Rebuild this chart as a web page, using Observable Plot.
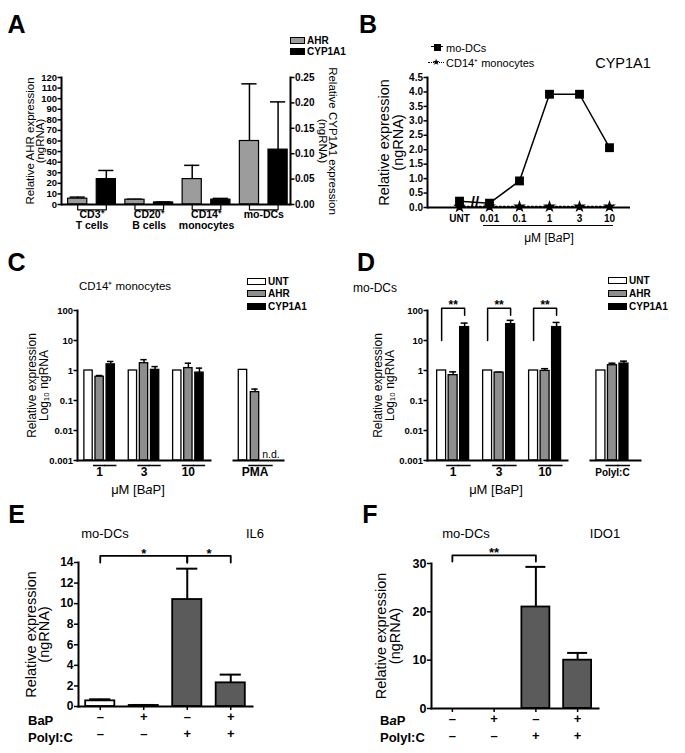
<!DOCTYPE html>
<html>
<head>
<meta charset="utf-8">
<script src="https://cdn.jsdelivr.net/npm/d3@7"></script>
<script src="https://cdn.jsdelivr.net/npm/@observablehq/plot@0.6"></script>
<style>
html,body{margin:0;padding:0;background:#fff;}
#fig{position:relative;width:685px;height:753px;overflow:hidden;font-family:"Liberation Sans",Arial,Helvetica,sans-serif;color:#000;background:#fff;}
.t{position:absolute;white-space:nowrap;line-height:1;}
.sw{position:absolute;border:1.5px solid #000;box-sizing:border-box;}
.hl{position:absolute;height:0;}
</style>
</head>
<body>
<div id="fig"></div>
<script>
// ---------------- DATA ----------------
// Panel A
const cellTypes = ["CD3⁺\nT cells", "CD20⁺\nB cells", "CD14⁺\nmonocytes", "mo-DCs"];
const ahrMean = [5.5, 4.5, 24, 60];
const ahrUpper = [7, 5, 37, 114];
const cyp1a1Mean = [0.050, 0.004, 0.0095, 0.108];
const cyp1a1Upper = [0.067, 0.005, 0.012, 0.202];
const ticksALeft = [0, 10, 20, 30, 40, 50, 60, 70, 80, 90, 100, 110, 120];
const ticksARight = [0, 0.05, 0.10, 0.15, 0.20, 0.25];

// Panel B
const bDoses = ["UNT", "0.01", "0.1", "1", "3", "10"];
const bMoDCs = [0.22, 0.15, 0.92, 3.92, 3.92, 2.07];
const bCD14 = [0.02, 0.03, 0.03, 0.03, 0.03, 0.03];
const ticksB = [0, 0.5, 1, 1.5, 2, 2.5, 3, 3.5, 4, 4.5];

// Panels C & D
const cdSeries = ["UNT", "AHR", "CYP1A1"];
const bapDoses = ["1", "3", "10"];
const logTicks = [0.001, 0.01, 0.1, 1, 10, 100];
const cUNT = [1, 1, 1];
const cAHR = [0.62, 1.75, 1.2];
const cAHRUpper = [0.68, 2.3, 1.75];
const cCYP = [1.6, 1.05, 0.85];
const cCYPUpper = [2.0, 1.35, 1.2];
const cPMA = [1.05, 0.19, null];          // UNT, AHR, CYP1A1 (n.d.)
const cPMAUpper = [null, 0.24, null];
const dUNT = [1, 1, 1];
const dAHR = [0.7, 0.85, 0.97];
const dAHRUpper = [0.9, 0.88, 1.15];
const dCYP = [28, 35, 28];
const dCYPUpper = [38, 47, 40];
const dPolyIC = [1, 1.5, 1.7];
const dPolyICUpper = [null, 1.75, 2.05];

// Panels E & F
const efBaP = [false, true, false, true];
const efPolyIC = [false, false, true, true];
const il6Mean = [0.55, 0.1, 10.4, 2.3];
const il6Upper = [0.7, 0.15, 13.4, 3.1];
const ido1Mean = [0, 0, 21, 10];
const ido1Upper = [null, null, 29.3, 11.5];
const ticksE = [0, 2, 4, 6, 8, 10, 12, 14];
const ticksF = [0, 10, 20, 30];

// ---------------- HELPERS ----------------
const FONT = '"Liberation Sans", Arial, Helvetica, sans-serif';
const common = {style: `font-family:${FONT};font-size:10px;font-weight:bold;background:transparent;overflow:visible;color:#000;`};
const fig = document.getElementById("fig");
function put(node, left, top) {
  node.style.position = "absolute";
  node.style.left = left + "px";
  node.style.top = top + "px";
  fig.appendChild(node);
}
function label(x, y, content, size = 11, weight = "normal", anchor = "middle") {
  const d = document.createElement("div");
  d.className = "t";
  d.innerHTML = content;
  d.style.left = x + "px";
  d.style.top = y + "px";
  d.style.fontSize = size + "px";
  d.style.fontWeight = weight;
  d.style.transform = `translate(${anchor === "start" ? "0" : "-50%"}, -50%)`;
  fig.appendChild(d);
}
function swatch(x, y, w, h, fill) {
  const d = document.createElement("div");
  d.className = "sw";
  Object.assign(d.style, {left: x + "px", top: y + "px", width: w + "px", height: h + "px", background: fill});
  fig.appendChild(d);
}
function hline(x1, x2, y, style = "solid", w = 1.5) {
  const d = document.createElement("div");
  d.className = "hl";
  Object.assign(d.style, {left: x1 + "px", top: (y - w / 2) + "px", width: (x2 - x1) + "px", borderTop: `${w}px ${style} #000`});
  fig.appendChild(d);
}
function axisTitle(text, dx, fontSize, lineHeight = 1, side = "left") {
  return Plot.text([text], {
    text: d => d, frameAnchor: side, textAnchor: "middle", lineAnchor: "middle",
    rotate: side === "left" ? -90 : 90,
    dx, fontSize, lineHeight, fontWeight: "normal"
  });
}
const seriesFill = {UNT: "#ffffff", AHR: "#8e8e8e", CYP1A1: "#000000"};
const yTickStyle = {tickSize: 3.5, tickPadding: 1, strokeWidth: 1.5, label: null};

// ---------------- PANEL A ----------------
const kA = 120 / 0.25;
const aRows = cellTypes.flatMap((c, i) => [
  {key: c + "|AHR", series: "AHR", v: ahrMean[i], up: ahrUpper[i]},
  {key: c + "|CYP1A1", series: "CYP1A1", v: cyp1a1Mean[i] * kA, up: cyp1a1Upper[i] * kA}
]);
const aStep = (342 - 61 - 52) / 8;
const aBrackets = cellTypes.flatMap((c, i) => [
  {key: c + "|AHR", y: 0, g: i}, {key: c + "|AHR", y: -5, g: i},
  {key: c + "|CYP1A1", y: -5, g: i}, {key: c + "|CYP1A1", y: 0, g: i}
]);
put(Plot.plot({
  ...common, width: 342, height: 245, marginLeft: 61, marginRight: 52, marginTop: 77, marginBottom: 41,
  x: {domain: aRows.map(d => d.key), paddingInner: 0.33, paddingOuter: 0.165, align: 0.7, round: false, axis: null},
  y: {domain: [0, 120]},
  color: {type: "identity"},
  marks: [
    Plot.axisY(ticksALeft, {anchor: "left", ...yTickStyle, fontSize: 9.5}),
    Plot.axisY(ticksARight.map(t => t * kA), {anchor: "right", ...yTickStyle, tickFormat: d => (d / kA).toFixed(2)}),
    Plot.line(aBrackets, {x: "key", y: "y", z: "g", strokeWidth: 1.2}),
    Plot.ruleX(aRows, {x: "key", y1: "v", y2: "up", strokeWidth: 1.5}),
    Plot.tickY(aRows, {x: "key", y: "up", strokeWidth: 1.5, insetLeft: 2, insetRight: 2}),
    Plot.barY(aRows, {x: "key", y: "v", fill: d => d.series === "AHR" ? "#9c9c9c" : "#000000", stroke: "#000", strokeWidth: 1.2}),
    Plot.frame({anchor: "left", strokeWidth: 2}),
    Plot.frame({anchor: "right", strokeWidth: 2}),
    Plot.ruleY([0], {strokeWidth: 2}),
    Plot.text(cellTypes, {x: c => c + "|AHR", text: d => d, frameAnchor: "bottom", dx: aStep / 2, dy: 5, lineAnchor: "top", fontSize: 10.5, lineHeight: 1.1}),
    axisTitle("Relative AHR expression\n(ngRNA)", -26, 11.5, 0.9, "left"),
    axisTitle("Relative CYP1A1 expression\n(ngRNA)", 37, 11.5, 0.92, "right")
  ]
}), 0, 0);

// ---------------- PANEL B ----------------
const bRows = bDoses.map((d, i) => ({dose: d, mo: bMoDCs[i], cd: bCD14[i]}));
put(Plot.plot({
  ...common, width: 343, height: 245, marginLeft: 85, marginRight: 55, marginTop: 77, marginBottom: 38,
  x: {type: "point", domain: bDoses, range: [117, 267], padding: 0},
  y: {domain: [0, 4.5]},
  marks: [
    Plot.axisY(ticksB, {...yTickStyle, tickFormat: d => d.toFixed(1)}),
    Plot.axisX(bDoses, {tickSize: 3, tickPadding: 4, strokeWidth: 1.5, label: null}),
    Plot.frame({anchor: "left", strokeWidth: 2}),
    Plot.ruleY([0], {strokeWidth: 2}),
    Plot.lineY(bRows, {x: "dose", y: "cd", strokeDasharray: "1.5,2.5", strokeWidth: 2}),
    Plot.dot(bRows, {x: "dose", y: "cd", symbol: "star", r: 4, fill: "#000", stroke: "none"}),
    Plot.lineY(bRows, {x: "dose", y: "mo", strokeWidth: 1.5}),
    Plot.dot(bRows, {x: "dose", y: "mo", symbol: "square", r: 5, fill: "#000", stroke: "none"}),
    axisTitle("Relative expression\n(ngRNA)", -36, 14.5, 0.97, "left")
  ]
}), 342, 0);

// ---------------- PANELS C & D ----------------
function groupRows(groups, valueCols, upperCols) {
  return groups.flatMap((g, i) => cdSeries.map((s, j) => ({
    key: g + "|" + s, series: s, v: valueCols[j][i], up: upperCols[j][i]
  })));
}
function groupKeys(groups) {
  return groups.flatMap((g, i) => [...cdSeries.map(s => g + "|" + s), ...(i < groups.length - 1 ? ["gap" + i] : [])]);
}
const yMinLog = logTicks[0];
function logPanel({rows, keys, groups, groupFont = 12, width, marginLeft, marginRight, xOpts, withAxis, title, extra = []}) {
  const bars = rows.filter(d => d.v != null);
  const errs = rows.filter(d => d.up != null);
  const nd = rows.filter(d => d.v == null);
  return Plot.plot({
    ...common, width, height: 250, marginLeft, marginRight, marginTop: 65, marginBottom: 35,
    x: {domain: keys, round: false, axis: null, ...xOpts},
    y: withAxis ? {type: "log", domain: [yMinLog, 100]} : {type: "log", domain: [yMinLog, 100], axis: null},
    color: {type: "identity"},
    marks: [
      withAxis ? Plot.axisY(logTicks, {...yTickStyle, fontSize: 9.5, tickFormat: d => String(d)}) : null,
      withAxis ? Plot.frame({anchor: "left", strokeWidth: 2}) : null,
      Plot.ruleX(errs, {x: "key", y1: "v", y2: "up", strokeWidth: 1.5}),
      Plot.tickY(errs, {x: "key", y: "up", strokeWidth: 1.5, insetLeft: 1, insetRight: 1}),
      Plot.barY(bars, {x: "key", y1: yMinLog, y2: "v", fill: d => seriesFill[d.series], stroke: "#000", strokeWidth: 1.3}),
      Plot.frame({anchor: "bottom", strokeWidth: 2}),
      Plot.tickY(rows.filter(d => d.series !== "UNT"), {x: "key", y: yMinLog, dy: 5, insetLeft: -2, insetRight: -2, strokeWidth: 1.5}),
      Plot.text(groups, {x: g => g + "|AHR", text: g => g, frameAnchor: "bottom", dy: 15, fontSize: groupFont}),
      Plot.text(nd, {x: "key", y: yMinLog, text: () => "n.d.", dy: -6, dx: 4, fontSize: 10.5, fontWeight: "normal"}),
      title ? axisTitle(title.text, title.dx, 12, 1, "left") : null,
      ...extra
    ]
  });
}

// Panel C
put(logPanel({
  rows: groupRows(bapDoses, [cUNT, cAHR, cCYP], [bapDoses.map(() => null), cAHRUpper, cCYPUpper]),
  keys: groupKeys(bapDoses), groups: bapDoses, width: 212, marginLeft: 77, marginRight: 2,
  xOpts: {paddingInner: 0.25, paddingOuter: 0.62, align: 0.5}, withAxis: true,
  title: {text: "Relative expression\nLog₁₀ ngRNA", dx: -39}
}), 0, 245);
put(logPanel({
  rows: groupRows(["PMA"], cPMA.map(v => [v]), cPMAUpper.map(v => [v])),
  keys: groupKeys(["PMA"]), groups: ["PMA"], width: 58, marginLeft: 5, marginRight: 3,
  xOpts: {paddingInner: 0.3, paddingOuter: 0.73, align: 0.3}, withAxis: false
}), 228, 245);

// Panel D (with significance brackets)
const dRows = groupRows(bapDoses, [dUNT, dAHR, dCYP], [bapDoses.map(() => null), dAHRUpper, dCYPUpper]);
const sigD = bapDoses.map(d => ({dose: d, label: "**"}));
const brD = {leftLow: 10, top: 120, rightLow: 70};
const brDpts = sigD.flatMap(s => [
  {key: s.dose + "|UNT", y: brD.leftLow, g: s.dose},
  {key: s.dose + "|UNT", y: brD.top, g: s.dose},
  {key: s.dose + "|CYP1A1", y: brD.top, g: s.dose},
  {key: s.dose + "|CYP1A1", y: brD.rightLow, g: s.dose}
]);
put(logPanel({
  rows: dRows, keys: groupKeys(bapDoses), groups: bapDoses, width: 227, marginLeft: 85, marginRight: 2,
  xOpts: {paddingInner: 0.22, paddingOuter: 0.7, align: 0.6}, withAxis: true,
  title: {text: "Relative expression\nLog₁₀ ngRNA", dx: -43},
  extra: [
    Plot.line(brDpts, {x: "key", y: "y", z: "g", strokeWidth: 1.5}),
    Plot.text(sigD, {x: s => s.dose + "|AHR", y: () => brD.top, text: "label", dy: -3, fontSize: 12})
  ]
}), 342, 245);
put(logPanel({
  rows: groupRows(["PolyI:C"], dPolyIC.map(v => [v]), dPolyICUpper.map(v => [v])),
  keys: groupKeys(["PolyI:C"]), groups: ["PolyI:C"], groupFont: 10, width: 58, marginLeft: 5, marginRight: 3,
  xOpts: {paddingInner: 0.22, paddingOuter: 0.78, align: 0.33}, withAxis: false
}), 585, 245);

// ---------------- PANELS E & F ----------------
function efPanel({means, uppers, ticks, yMax, width, marginLeft, marginRight, marginTop, marginBottom, tickFont, titleDx, titleLH, sig, brLow, brTop}) {
  const rows = means.map((v, i) => ({key: i, bap: efBaP[i], poly: efPolyIC[i], v, up: uppers[i]}));
  const errs = rows.filter(d => d.up != null);
  const step = (width - marginLeft - marginRight) / rows.length;
  const pts = sig.flatMap((s, j) => [
    {x: s.from, y: brLow, z: j}, {x: s.from, y: brTop, z: j},
    {x: s.to, y: brTop, z: j}, {x: s.to, y: brLow, z: j}
  ]);
  return Plot.plot({
    ...common, width, height: 258, marginLeft, marginRight, marginTop, marginBottom,
    x: {domain: rows.map(d => d.key), paddingInner: 0.33, paddingOuter: 0.165, round: false},
    y: {domain: [0, yMax]},
    color: {type: "identity"},
    marks: [
      Plot.axisY(ticks, {...yTickStyle, tickSize: 4, fontSize: tickFont}),
      Plot.axisX({tickSize: 4, strokeWidth: 1.5, tickFormat: () => "", label: null}),
      Plot.ruleX(errs, {x: "key", y1: "v", y2: "up", strokeWidth: 2}),
      Plot.tickY(errs, {x: "key", y: "up", strokeWidth: 2, insetLeft: 4, insetRight: 4}),
      Plot.barY(rows, {x: "key", y: "v", fill: d => d.poly ? "#5b5b5b" : d.bap ? "#000000" : "#ffffff", stroke: "#000", strokeWidth: 1.8}),
      Plot.frame({anchor: "left", strokeWidth: 2}),
      Plot.frame({anchor: "bottom", strokeWidth: 2}),
      Plot.text(rows, {x: "key", text: d => d.bap ? "+" : "–", frameAnchor: "bottom", dy: 14, fontSize: 13}),
      Plot.text(rows, {x: "key", text: d => d.poly ? "+" : "–", frameAnchor: "bottom", dy: 31, fontSize: 13}),
      Plot.line(pts, {x: "x", y: "y", z: "z", strokeWidth: 1.8}),
      ...sig.map(s => Plot.text([s], {x: "from", y: () => brTop, text: "label", dx: (s.to - s.from) * step / 2, dy: -2, fontSize: 13})),
      axisTitle("Relative expression\n(ngRNA)", titleDx, 14.5, titleLH, "left")
    ]
  });
}
put(efPanel({
  means: il6Mean, uppers: il6Upper, ticks: ticksE, yMax: 14, width: 342,
  marginLeft: 78, marginRight: 90, marginTop: 67, marginBottom: 47, tickFont: 12, titleDx: -40, titleLH: 0.88,
  sig: [{from: 0, to: 2, label: "*"}, {from: 2, to: 3, label: "*"}], brLow: 14, brTop: 14.65
}), 0, 495);
put(efPanel({
  means: ido1Mean, uppers: ido1Upper, ticks: ticksF, yMax: 30, width: 343,
  marginLeft: 89, marginRight: 87, marginTop: 68, marginBottom: 45, tickFont: 12.5, titleDx: -43, titleLH: 0.97,
  sig: [{from: 0, to: 2, label: "**"}], brLow: 30.4, brTop: 31.7
}), 342, 495);

// ---------------- ANNOTATIONS (letters, titles, legends) ----------------
label(16.5, 24, "A", 25, "bold");
label(368, 24, "B", 25, "bold");
label(16.5, 262, "C", 25, "bold");
label(366, 262, "D", 25, "bold");
label(16.5, 514, "E", 25, "bold");
label(370, 514, "F", 25, "bold");

// legend A
swatch(290, 37, 15, 7, "#9c9c9c");
swatch(290, 48, 15, 7, "#000");
label(307, 41, "AHR", 10, "bold", "start");
label(307, 52, "CYP1A1", 10, "bold", "start");

// legend B
hline(431, 443, 47, "solid", 1.5);
swatch(434, 44, 7, 7, "#000");
label(446, 47.5, "mo-DCs", 11, "normal", "start");
hline(428, 444, 62.5, "dotted", 1.5);
label(436, 62, "★", 9, "normal");
label(446, 62.5, "CD14⁺ monocytes", 11, "normal", "start");
label(623, 63, "CYP1A1", 14.5, "normal");
label(475, 201, "//", 15, "bold");
hline(483, 613, 226, "solid", 1.5);
label(549, 238, "μM [B<i>a</i>P]", 12, "normal");

// C
label(125, 287, "CD14⁺ monocytes", 11.5, "normal");
swatch(247, 278, 19, 7, "#fff");
swatch(247, 290, 19, 7, "#8e8e8e");
swatch(247, 303, 19, 7, "#000");
label(268, 281.5, "UNT", 10, "bold", "start");
label(268, 293.5, "AHR", 10, "bold", "start");
label(268, 306.5, "CYP1A1", 10, "bold", "start");
label(138, 489, "μM [B<i>a</i>P]", 13, "normal");

// D
label(375, 288, "mo-DCs", 12, "normal");
swatch(608, 277, 19, 7, "#fff");
swatch(608, 290, 19, 7, "#8e8e8e");
swatch(608, 303, 19, 7, "#000");
label(629, 280.5, "UNT", 10, "bold", "start");
label(629, 293.5, "AHR", 10, "bold", "start");
label(629, 306.5, "CYP1A1", 10, "bold", "start");
label(496, 489, "μM [B<i>a</i>P]", 13, "normal");

// E
label(105, 533, "mo-DCs", 13, "normal");
label(255, 533, "IL6", 13, "normal");
label(28, 720, "BaP", 13, "bold", "start");
label(28, 737, "PolyI:C", 13, "bold", "start");

// F
label(466, 533, "mo-DCs", 13, "normal");
label(605, 533, "IDO1", 13, "normal");
label(380, 720, "B<i>a</i>P", 13, "bold", "start");
label(380, 737, "PolyI:C", 13, "bold", "start");
</script>
</body>
</html>
